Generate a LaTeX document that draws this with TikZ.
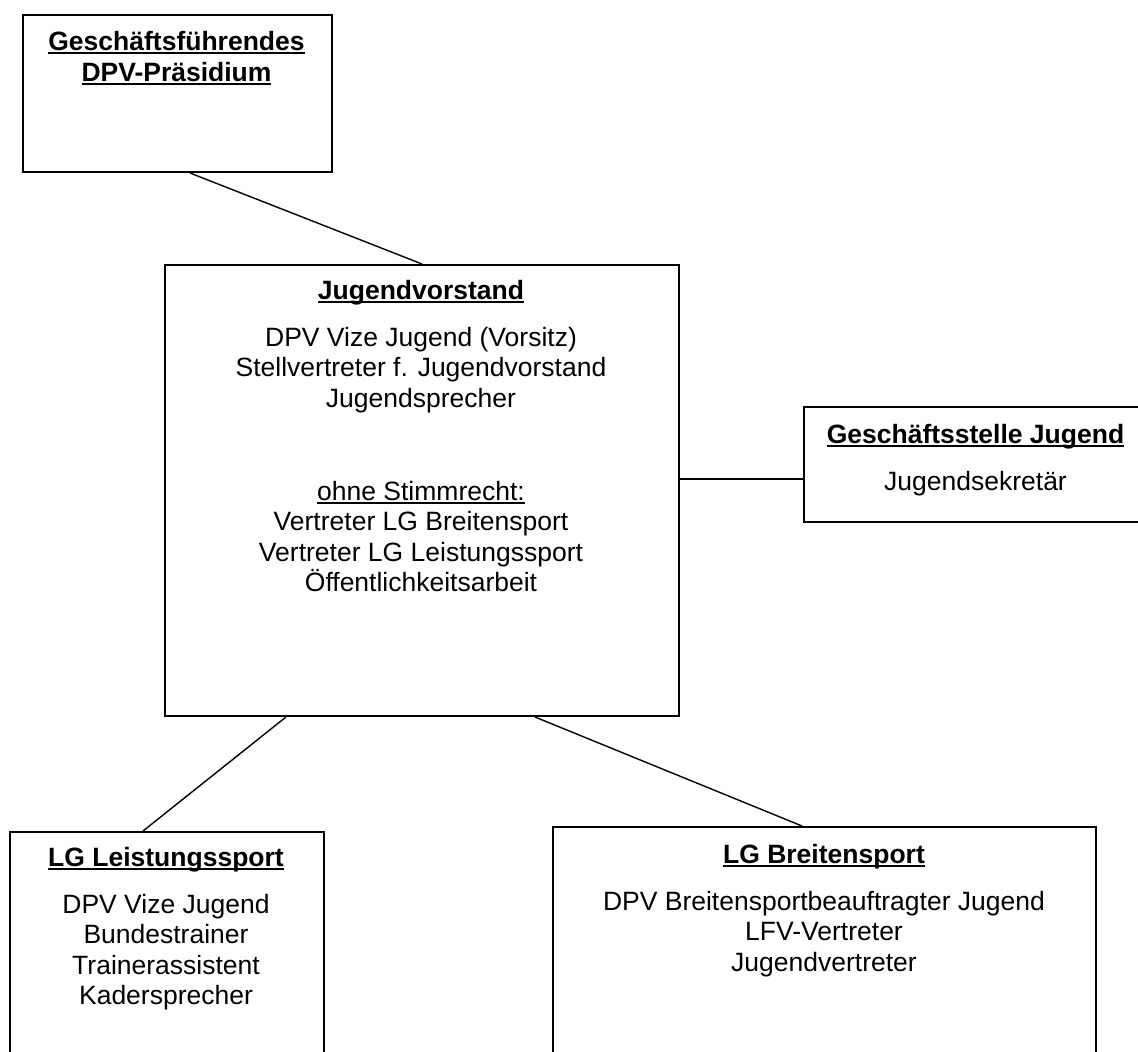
\documentclass[tikz,border=0pt]{standalone}
\usepackage{fontspec}
\setmainfont{Liberation Sans}
\newcommand\ulbox[1]{\setbox0\hbox{#1}\rlap{\rule[-3.8pt]{\wd0}{1.9pt}}\box0}
\begin{document}
\begin{tikzpicture}[x=1pt,y=-1pt,
  box/.style={draw, line width=2pt, inner sep=0pt, anchor=north west},
  conn/.style={line width=1.4pt},
  txt/.style={anchor=base, inner sep=0pt, font=\fontsize{26.5}{30.5}\selectfont},
  ttl/.style={anchor=base, inner sep=0pt, font=\fontsize{26.5}{30.5}\selectfont\bfseries}]
\useasboundingbox (0,0) rectangle (1138,1052);
\fill[white] (0,0) rectangle (1138,1052);
\clip (0,0) rectangle (1138,1052);
% boxes
\node[box, minimum width=309pt, minimum height=157pt] (b1) at (22,14) {};
\node[box, minimum width=514pt, minimum height=451pt] (b2) at (164,264) {};
\node[box, minimum width=345pt, minimum height=115pt] (b3) at (803,406) {};
\node[box, minimum width=314pt, minimum height=260pt] (b4) at (9,831) {};
\node[box, minimum width=543pt, minimum height=260pt] (b5) at (552,826) {};
% connectors
\draw[conn] ([xshift=168pt]b1.south west) -- ([xshift=258pt]b2.north west);
\draw[conn] ([yshift=-215pt]b2.north east) -- ([yshift=-73pt]b3.north west);
\draw[conn] ([xshift=122pt]b2.south west) -- ([xshift=134pt]b4.north west);
\draw[conn] ([xshift=371pt]b2.south west) -- ([xshift=250pt]b5.north west);
% texts box 1
\node[ttl] (t1a) at (176.5,50) {\ulbox{Geschäftsführendes}};
\node[ttl] (t1b) at (176.5,81) {\ulbox{DPV-Präsidium}};
% texts box 2
\node[ttl] (t2a) at (421,299) {\ulbox{Jugendvorstand}};
\node[txt] (t2b) at (421,346) {DPV Vize Jugend (Vorsitz)};
\node[txt] (t2c) at (421,376.5) {Stellvertreter f. Jugendvorstand};
\node[txt] (t2d) at (421,407) {Jugendsprecher};
\node[txt] (t2e) at (421,500) {\ulbox{ohne Stimmrecht:}};
\node[txt] (t2f) at (421,530.5) {Vertreter LG Breitensport};
\node[txt] (t2g) at (421,561) {Vertreter LG Leistungssport};
\node[txt] (t2h) at (421,591.5) {Öffentlichkeitsarbeit};
% texts box 3
\node[ttl] (t3a) at (975.5,443) {\ulbox{Geschäftsstelle Jugend}};
\node[txt] (t3b) at (975.5,490) {Jugendsekretär};
% texts box 4
\node[ttl] (t4a) at (166,866) {\ulbox{LG Leistungssport}};
\node[txt] (t4b) at (166,913) {DPV Vize Jugend};
\node[txt] (t4c) at (166,943.5) {Bundestrainer};
\node[txt] (t4d) at (166,974) {Trainerassistent};
\node[txt] (t4e) at (166,1004.5) {Kadersprecher};
% texts box 5
\node[ttl] (t5a) at (824,863) {\ulbox{LG Breitensport}};
\node[txt] (t5b) at (824,910) {DPV Breitensportbeauftragter Jugend};
\node[txt] (t5c) at (824,940.5) {LFV-Vertreter};
\node[txt] (t5d) at (824,971) {Jugendvertreter};
\end{tikzpicture}
\end{document}
